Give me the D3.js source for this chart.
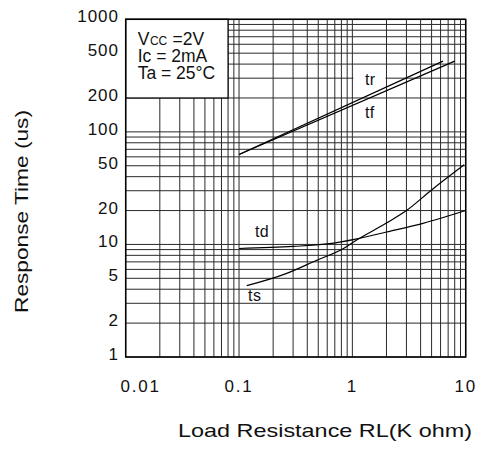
<!DOCTYPE html>
<html>
<head>
<meta charset="utf-8">
<script src="https://cdn.jsdelivr.net/npm/d3@7"></script>
<style>
  html, body { margin: 0; padding: 0; background: #fff; }
  svg { display: block; font-family: "Liberation Sans", Arial, sans-serif; }
</style>
</head>
<body>
<svg id="chart" width="480" height="465"></svg>
<script>
// ---- data ----
const xTickLabels = [0.01, 0.1, 1, 10];
const yTickLabels = [1, 2, 5, 10, 20, 50, 100, 200, 500, 1000];
const trData = [[0.1, 63], [6.3, 425]];
const tfData = [[0.1, 63], [8.0, 425]];
const tdData = [[0.1, 9.2], [0.3, 9.6], [0.6, 10.1], [1.1, 11.2], [2, 12.9], [4.2, 15.4], [10, 20]];
const tsData = [[0.117, 4.3], [0.26, 5.5], [0.48, 7.2], [0.85, 9.3], [1.1, 11.0], [2, 15.5], [3, 20], [5, 30.5], [9.7, 51]];
const curveLabels = [
  { name: "tr", x: 1.29, y: 261, bg: true },
  { name: "tf", x: 1.29, y: 133, bg: false },
  { name: "td", x: 0.138, y: 11.6, bg: false },
  { name: "ts", x: 0.12, y: 3.16, bg: false }
];
const legendFirst = [["V", 17.5], ["CC", 12], [" =2V", 17.5]];
const legendLines = ["Ic = 2mA", "Ta = 25°C"];

// ---- layout ----
const svg = d3.select("#chart");
const L = 125.7, R = 465.7, T = 19.3, B = 357;
const x = d3.scaleLog().domain([0.01, 10]).range([L, R]);
const y = d3.scaleLog().domain([1, 1000]).range([B, T]);

// grid
const grid = svg.append("g").attr("stroke", "#2a2a2a").attr("stroke-width", 1);
grid.selectAll("line.v").data(x.ticks()).join("line")
  .attr("x1", d => x(d)).attr("x2", d => x(d))
  .attr("y1", T).attr("y2", B);
grid.selectAll("line.h").data(y.ticks()).join("line")
  .attr("x1", L).attr("x2", R)
  .attr("y1", d => y(d)).attr("y2", d => y(d));

// legend box (covers the grid)
svg.append("rect")
  .attr("x", x(0.01)).attr("y", y(1000))
  .attr("width", x(0.08) - x(0.01)).attr("height", y(200) - y(1000))
  .attr("fill", "#fff").attr("stroke", "#000").attr("stroke-width", 1.2);

const lg = svg.append("g").attr("fill", "#111");
let cx = 137.7;
legendFirst.forEach(([s, fs]) => {
  const t = lg.append("text").attr("x", cx).attr("y", 45).attr("font-size", fs)
    .attr("xml:space", "preserve").style("white-space", "pre").text(s);
  cx += t.node().getComputedTextLength() + 0.5;
});
lg.selectAll("text.l").data(legendLines).join("text").attr("class", "l")
  .attr("font-size", 17.5)
  .attr("x", 137.7).attr("y", (d, i) => 62 + i * 17.2).text(d => d);

// curve labels
const labG = svg.append("g").attr("font-size", 16).attr("fill", "#111");
curveLabels.forEach(c => {
  const t = labG.append("text").attr("x", x(c.x)).attr("y", y(c.y)).text(c.name)
    .attr("letter-spacing", 0.5);
  if (c.bg) {
    const bb = t.node().getBBox();
    labG.insert("rect", "text")
      .attr("x", x(1) + 1).attr("width", x(2) - x(1) - 2)
      .attr("y", bb.y - 1).attr("height", bb.height + 2)
      .attr("fill", "#fff");
  }
});

// curves
const line = d3.line().x(d => x(d[0])).y(d => y(d[1]));
const smooth = d3.line().x(d => x(d[0])).y(d => y(d[1])).curve(d3.curveMonotoneX);
const cg = svg.append("g").attr("fill", "none").attr("stroke", "#000").attr("stroke-width", 1.2);
cg.append("path").attr("d", line(trData));
cg.append("path").attr("d", line(tfData));
cg.append("path").attr("d", smooth(tdData));
cg.append("path").attr("d", smooth(tsData));

// frame
svg.append("rect").attr("x", L).attr("y", T).attr("width", R - L).attr("height", B - T)
  .attr("fill", "none").attr("stroke", "#000").attr("stroke-width", 1.5);

// y tick labels
svg.append("g").attr("font-size", 17).attr("fill", "#111").attr("text-anchor", "end").attr("letter-spacing", 1)
  .selectAll("text").data(yTickLabels).join("text")
  .attr("x", 119).attr("y", d => y(d) + 3)
  .text(d => d);

// x tick labels
svg.append("g").attr("font-size", 17).attr("fill", "#111").attr("text-anchor", "middle").attr("letter-spacing", 1.8)
  .selectAll("text").data(xTickLabels).join("text")
  .attr("x", (d, i) => x(d) + (i === 0 ? 15 : 0)).attr("y", 392)
  .text(d => d);

// axis titles
svg.append("text").attr("x", 325).attr("y", 437).attr("text-anchor", "middle").attr("fill", "#111")
  .attr("font-size", 18.5).attr("textLength", 294).attr("lengthAdjust", "spacingAndGlyphs")
  .text("Load Resistance RL(K ohm)");
svg.append("text").attr("transform", "translate(28,211.5) rotate(-90)").attr("fill", "#111")
  .attr("text-anchor", "middle")
  .attr("font-size", 18).attr("textLength", 203).attr("lengthAdjust", "spacingAndGlyphs")
  .text("Response Time (us)");
</script>
</body>
</html>
